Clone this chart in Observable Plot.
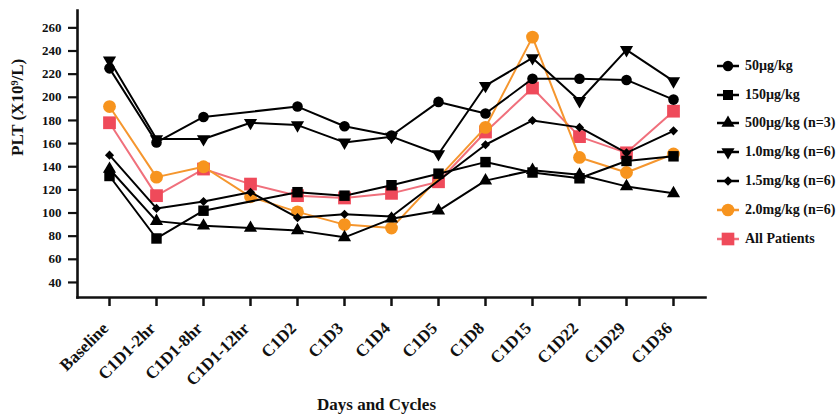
<!DOCTYPE html>
<html>
<head>
<meta charset="utf-8">
<script src="https://cdn.jsdelivr.net/npm/d3@7"></script>
<script src="https://cdn.jsdelivr.net/npm/@observablehq/plot@0.6"></script>
<style>
  html, body { margin: 0; padding: 0; background: #fff; }
  #wrap { position: relative; width: 840px; height: 418px; overflow: hidden; background: #fff; }
  #wrap svg.plot { position: absolute; left: 0; top: 0; }
  .leg { position: absolute; left: 716px; height: 20px; line-height: 20px; white-space: nowrap;
         font-family: "Liberation Serif", "Times New Roman", serif; font-weight: bold; font-size: 14px; color: #111; }
  .leg svg { vertical-align: middle; margin-right: 5px; position: relative; top: -1px; }
</style>
</head>
<body>
<div id="wrap"></div>
<script>
// ---- Data ----
const days = ["Baseline","C1D1-2hr","C1D1-8hr","C1D1-12hr","C1D2","C1D3","C1D4","C1D5","C1D8","C1D15","C1D22","C1D29","C1D36"];
const seriesNames = ["50\u00b5g/kg","150\u00b5g/kg","500\u00b5g/kg (n=3)","1.0mg/kg (n=6)","1.5mg/kg (n=6)","2.0mg/kg (n=6)","All Patients"];
const d50   = [225,161,183,null,192,175,167,196,186,216,216,215,198];
const d150  = [132, 78,102,null,118,115,124,134,144,135,130,145,149];
const d500  = [138, 93, 89, 87, 85, 79, 95,102,128,137,133,123,117];
const d1_0  = [232,164,164,178,176,161,166,151,210,234,197,241,214];
const d1_5  = [150,104,110,118, 96, 99, 97,null,159,180,174,152,171];
const d2_0  = [192,131,140,114,101, 90, 87,null,174,252,148,135,151];
const dAll  = [178,115,138,125,115,113,117,127,170,208,166,152,188];
const yTicks = [40,60,80,100,120,140,160,180,200,220,240,260];

// ---- Styles per series ----
const styles = [
  {values: d50,  symbol: "circle",   rotate: 0,   r: 5.3, fill: "#000", line: "#000", legSize: 85},
  {values: d150, symbol: "square",   rotate: 0,   r: 5.9, fill: "#000", line: "#000", legSize: 100},
  {values: d500, symbol: "triangle", rotate: 0,   r: 4.9, fill: "#000", line: "#000", legSize: 75},
  {values: d1_0, symbol: "triangle", rotate: 180, r: 4.9, fill: "#000", line: "#000", legSize: 75},
  {values: d1_5, symbol: "diamond2", rotate: 0,   r: 4.1, fill: "#000", line: "#000", legSize: 55},
  {values: d2_0, symbol: "circle",   rotate: 0,   r: 6.4, fill: "#f7941e", line: "#f5962e", legSize: 125},
  {values: dAll, symbol: "square",   rotate: 0,   r: 7.2, fill: "#ef4a5a", line: "#f0707c", legSize: 160}
];

const rows = [];
styles.forEach((s, i) => {
  s.values.forEach((v, j) => { if (v != null) rows.push({series: seriesNames[i], idx: i, day: days[j], v}); });
});

// draw coloured series first, black on top
const order = [6, 5, 0, 1, 2, 3, 4];
const marks = [];
marks.push(Plot.axisY({ticks: yTicks, tickSize: 9, tickPadding: 7, strokeWidth: 2.2, fontSize: 13, fontWeight: "bold", label: null}));
marks.push(Plot.axisX({tickSize: 9, strokeWidth: 2.5, text: null, label: null}));
marks.push(Plot.axisX({tickSize: 0, tickPadding: 28, tickRotate: -45, dx: -4, fontSize: 17, fontWeight: "bold", label: null}));
marks.push(Plot.frame({anchor: "left", strokeWidth: 2.6}));
marks.push(Plot.frame({anchor: "bottom", strokeWidth: 2.6}));
for (const i of order) {
  const s = styles[i];
  const data = rows.filter(d => d.idx === i);
  marks.push(Plot.line(data, {x: "day", y: "v", stroke: s.line, strokeWidth: 2}));
  marks.push(Plot.dot(data, {x: "day", y: "v", symbol: s.symbol, r: s.r, fill: s.fill, stroke: "none", rotate: s.rotate}));
}
marks.push(Plot.text(["PLT (X10\u2079/L)"], {frameAnchor: "left", dx: -60, dy: 2, rotate: -90, fontSize: 17, fontWeight: "bold", fill: "#111"}));
marks.push(Plot.text(["Days and Cycles"], {frameAnchor: "bottom", dx: -15, dy: 112, fontSize: 17, fontWeight: "bold", fill: "#111"}));

const chart = Plot.plot({
  width: 840, height: 418,
  marginLeft: 77, marginRight: 135, marginTop: 10, marginBottom: 121,
  style: {fontFamily: "'Liberation Serif', 'Times New Roman', serif", color: "#111", background: "#fff"},
  x: {type: "point", domain: days, padding: 0.64},
  y: {domain: [27, 275]},
  marks
});
chart.classList.add("plot");
const wrap = document.getElementById("wrap");
wrap.appendChild(chart);

// ---- Legend ----
const symMap = {circle: d3.symbolCircle, square: d3.symbolSquare, triangle: d3.symbolTriangle, diamond2: d3.symbolDiamond2};
const legTop = [66, 95, 123, 152, 181, 210, 239];
styles.forEach((s, i) => {
  const div = document.createElement("div");
  div.className = "leg";
  div.style.top = (legTop[i] - 10) + "px";
  const path = d3.symbol().type(symMap[s.symbol]).size(s.legSize)();
  div.innerHTML = `<svg width="24" height="16"><line x1="1" x2="23" y1="8" y2="8" stroke="${s.line}" stroke-width="2.5"/>` +
    `<path d="${path}" transform="translate(12,8) rotate(${s.rotate})" fill="${s.fill}"/></svg>` +
    `<span>${seriesNames[i]}</span>`;
  wrap.appendChild(div);
});
</script>
</body>
</html>
